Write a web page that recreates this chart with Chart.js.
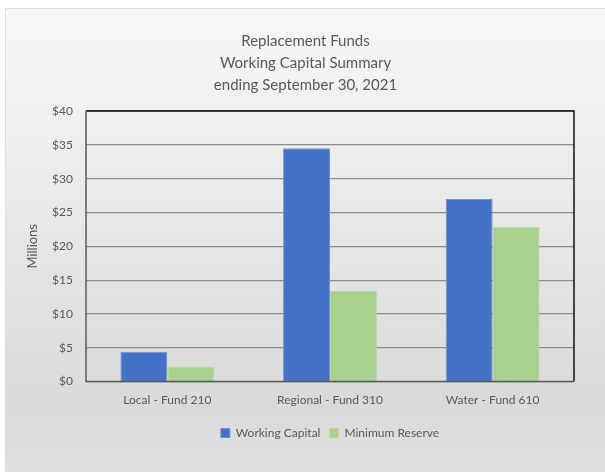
<!DOCTYPE html>
<html>
<head>
<meta charset="utf-8">
<script src="https://cdn.jsdelivr.net/npm/chart.js@4"></script>
<style>
  html, body { margin: 0; padding: 0; background: #fff; }
  #box {
    position: absolute; left: 5px; top: 8px;
    width: 599px; height: 463px;
    border: 1px solid #dedede;
    background: linear-gradient(to bottom, #f8f8f8 0%, #dadada 85%, #e0e0e0 100%);
  }
  canvas { display: block; }
</style>
</head>
<body>
<div id="box"><canvas id="funds" width="599" height="463"></canvas></div>
<script>
let funds = ['Local - Fund 210', 'Regional - Fund 310', 'Water - Fund 610'];
let working_capital = [4.4, 34.5, 27.0];
let minimum_reserve = [2.2, 13.4, 22.9];
let title_lines = ['Replacement Funds', 'Working Capital Summary', 'ending September 30, 2021'];

Chart.defaults.font.family = 'Lato, "Open Sans", sans-serif';
Chart.defaults.color = '#595959';

// frame around the plot area: dark top/right, gray left/bottom
const plotFrame = {
  id: 'plotFrame',
  afterDatasetsDraw(chart) {
    const { ctx, chartArea: a } = chart;
    ctx.save();
    ctx.lineWidth = 1.5;
    ctx.strokeStyle = '#111';
    ctx.beginPath();
    ctx.moveTo(a.left, a.top);
    ctx.lineTo(a.right, a.top);
    ctx.lineTo(a.right, a.bottom);
    ctx.stroke();
    ctx.strokeStyle = '#595959';
    ctx.beginPath();
    ctx.moveTo(a.left, a.top);
    ctx.lineTo(a.left, a.bottom);
    ctx.lineTo(a.right, a.bottom);
    ctx.stroke();
    ctx.restore();
  }
};

new Chart(document.getElementById('funds').getContext('2d'), {
  type: 'bar',
  data: {
    labels: funds,
    datasets: [{
        label: 'Working Capital',
        data: working_capital,
        backgroundColor: '#4472C4',
        borderColor: '#6f91d0',
        borderWidth: 1,
      },
      {
        label: 'Minimum Reserve',
        data: minimum_reserve,
        backgroundColor: '#A9D18E',
        borderColor: '#b8d9a2',
        borderWidth: 1,
      },
    ],
  },
  options: {
    responsive: false,
    animation: false,
    categoryPercentage: 0.577,
    barPercentage: 1,
    layout: { padding: { left: 0, right: 0, top: 0, bottom: 23 } },
    scales: {
      x: {
        grid: { display: false, drawTicks: false },
        border: { display: false },
        ticks: { padding: 11, font: { size: 12 }, color: '#595959' },
      },
      y: {
        min: 0,
        max: 40,
        afterFit: (scale) => { scale.width = 80; },
        grid: { color: '#8c8c8c', lineWidth: 1.2, drawTicks: false },
        border: { display: false },
        ticks: {
          stepSize: 5,
          padding: 13,
          font: { size: 12 },
          color: '#595959',
          callback: (v) => '$' + v,
        },
        title: {
          display: true,
          text: 'Millions',
          font: { size: 13 },
          color: '#595959',
          padding: { top: 19, bottom: 0 },
        },
      },
      // empty strip on the right so the title stays centred on the whole chart
      spacer: {
        position: 'right',
        afterFit: (scale) => { scale.width = 31; },
        grid: { display: false, drawTicks: false },
        border: { display: false },
        ticks: { display: false },
      },
    },
    plugins: {
      title: {
        display: true,
        text: title_lines,
        color: '#595959',
        font: { size: 15, weight: 'normal', lineHeight: 22 / 15 },
        padding: { top: 21, bottom: 15 },
      },
      legend: {
        position: 'bottom',
        fullSize: false,
        labels: {
          boxWidth: 9,
          boxHeight: 9,
          padding: 9,
          font: { size: 12 },
          color: '#595959',
        },
      },
      tooltip: { enabled: false },
    },
  },
  plugins: [plotFrame],
});
</script>
</body>
</html>
